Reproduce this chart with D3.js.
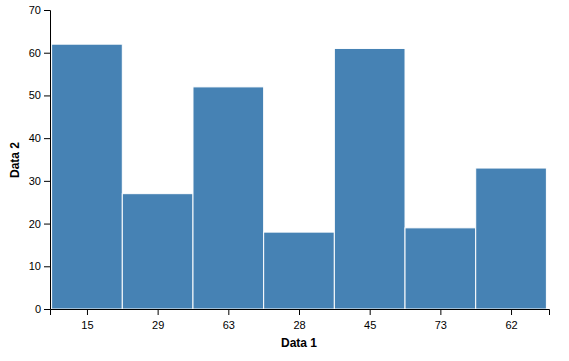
<!DOCTYPE html>
<html><head><meta charset="utf-8">
<script src="https://cdn.jsdelivr.net/npm/d3@7"></script>
<style>body{margin:0;background:#fff}</style>
</head><body>
<svg id="c" width="569" height="361"></svg>
<script>
const categories = ["15","29","63","28","45","73","62"];
const values = [62, 27, 52, 18, 61, 19, 33];
const yTicks = [0,10,20,30,40,50,60,70];

const svg = d3.select("#c");
const margin = {left: 50, top: 10, right: 20, bottom: 52};
const W = 569, H = 361;
const x = d3.scaleBand().domain(categories).range([margin.left, 549]).paddingInner(0).paddingOuter(0.03);
const y = d3.scaleLinear().domain([0,70]).range([309, 10]);

svg.append("g").selectAll("rect").data(values).join("rect")
  .attr("x", (d,i) => x(categories[i]) - 0.5)
  .attr("y", d => y(d))
  .attr("width", x.bandwidth())
  .attr("height", d => y(0) - y(d))
  .attr("fill", "steelblue")
  .attr("stroke", "#fff")
  .attr("stroke-width", 1);

svg.append("g").attr("transform", "translate(0,309)")
  .call(d3.axisBottom(x).tickSizeOuter(6))
  .call(g => g.selectAll("text").attr("font-family","Liberation Sans, Arial, sans-serif").attr("font-size", 11).attr("dy","1em"));

svg.append("g").attr("transform", "translate(50,0)")
  .call(d3.axisLeft(y).tickValues(yTicks))
  .call(g => g.selectAll("text").attr("font-family","Liberation Sans, Arial, sans-serif").attr("font-size", 11));

svg.append("text").attr("x", 299).attr("y", 347).attr("text-anchor","middle")
  .attr("font-family","Liberation Sans, Arial, sans-serif").attr("font-size", 12).attr("font-weight","bold").text("Data 1");
svg.append("text").attr("transform","translate(19,160) rotate(-90)").attr("text-anchor","middle")
  .attr("font-family","Liberation Sans, Arial, sans-serif").attr("font-size", 12).attr("font-weight","bold").text("Data 2");
</script>
</body></html>
